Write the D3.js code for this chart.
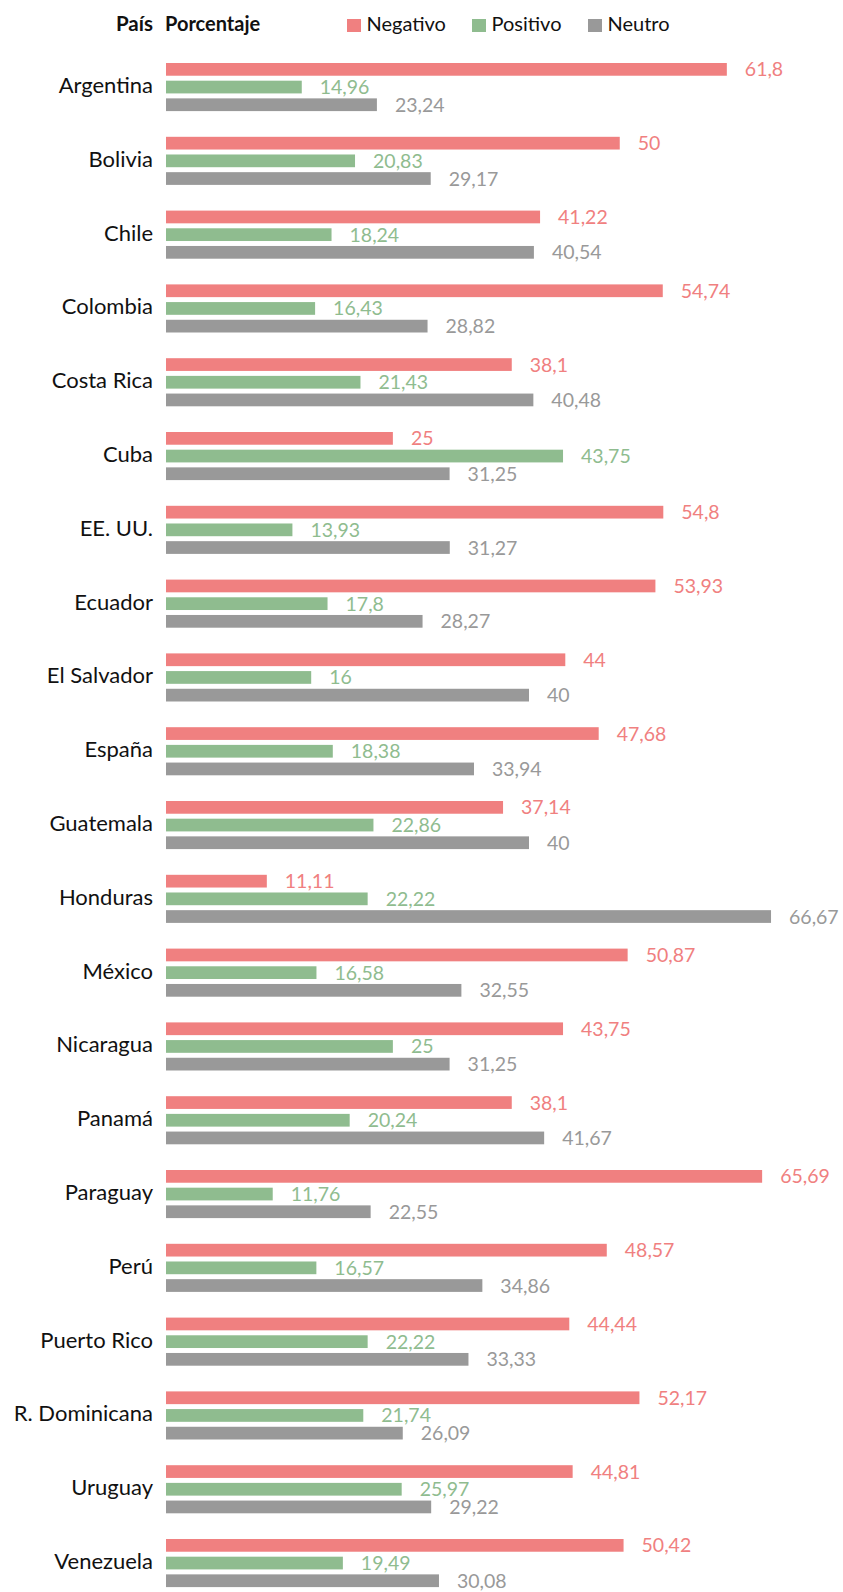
<!DOCTYPE html>
<html>
<head>
<meta charset="utf-8">
<script src="https://cdn.jsdelivr.net/npm/d3@7"></script>
<style>
  html, body { margin: 0; padding: 0; background: #fff; }
  svg { display: block; font-family: Lato, "Noto Sans", sans-serif; }
</style>
</head>
<body>
<svg id="chart" width="843" height="1592"></svg>
<script>
const countries = ["Argentina","Bolivia","Chile","Colombia","Costa Rica","Cuba","EE. UU.","Ecuador","El Salvador","España","Guatemala","Honduras","México","Nicaragua","Panamá","Paraguay","Perú","Puerto Rico","R. Dominicana","Uruguay","Venezuela"];
const negativo = [61.8,50,41.22,54.74,38.1,25,54.8,53.93,44,47.68,37.14,11.11,50.87,43.75,38.1,65.69,48.57,44.44,52.17,44.81,50.42];
const positivo = [14.96,20.83,18.24,16.43,21.43,43.75,13.93,17.8,16,18.38,22.86,22.22,16.58,25,20.24,11.76,16.57,22.22,21.74,25.97,19.49];
const neutro = [23.24,29.17,40.54,28.82,40.48,31.25,31.27,28.27,40,33.94,40,66.67,32.55,31.25,41.67,22.55,34.86,33.33,26.09,29.22,30.08];
const seriesNames = ["Negativo","Positivo","Neutro"];
const seriesColors = ["#F08080","#8FBC8F","#999999"];

const seriesData = [negativo, positivo, neutro];
const rows = countries.map((c, i) => ({ country: c, values: seriesNames.map((s, k) => ({ key: s, value: seriesData[k][i] })) }));

const svg = d3.select("#chart");
const x0 = 166;
const maxV = d3.max(seriesData.flat());
const x = d3.scaleLinear().domain([0, maxV]).range([x0, x0 + maxV * 9.075]);
const y = d3.scaleBand().domain(countries).range([63, 63 + countries.length * 73.8]).padding(0);
const ySub = d3.scaleBand().domain(seriesNames).range([0, 48.1]).paddingInner(0.28).paddingOuter(0);
const color = d3.scaleOrdinal().domain(seriesNames).range(seriesColors);
const fmt = v => String(v).replace(".", ",");

// Header
svg.append("text").attr("x", 153).attr("y", 31).attr("text-anchor", "end")
  .attr("font-size", 20.5).attr("font-weight", "bold").attr("fill", "#111").text("País");
svg.append("text").attr("x", 165).attr("y", 31).attr("text-anchor", "start")
  .attr("font-size", 20).attr("font-weight", "bold").attr("fill", "#111").text("Porcentaje");

const legendX = [347, 472, 588];
const lg = svg.append("g").selectAll("g").data(seriesNames).join("g")
  .attr("transform", (d, i) => `translate(${legendX[i]},0)`);
lg.append("rect").attr("x", 0).attr("y", 19).attr("width", 14).attr("height", 13).attr("fill", d => color(d));
lg.append("text").attr("x", 19.5).attr("y", 31).attr("font-size", 20).attr("fill", "#111").text(d => d);

// Groups
const g = svg.append("g").selectAll("g").data(rows).join("g")
  .attr("transform", d => `translate(0,${y(d.country)})`);

g.append("text").attr("x", 153).attr("y", 30).attr("text-anchor", "end")
  .attr("font-size", 22).attr("fill", "#111").text(d => d.country);

g.selectAll("rect").data(d => d.values).join("rect")
  .attr("x", x(0)).attr("y", d => ySub(d.key))
  .attr("width", d => x(d.value) - x(0)).attr("height", ySub.bandwidth())
  .attr("fill", d => color(d.key));

g.selectAll("text.val").data(d => d.values).join("text").attr("class", "val")
  .attr("x", d => x(d.value) + 18).attr("y", d => ySub(d.key) + ySub.bandwidth() / 2)
  .attr("dy", "0.36em").attr("font-size", 19.5).attr("fill", d => color(d.key))
  .text(d => fmt(d.value));
</script>
</body>
</html>
